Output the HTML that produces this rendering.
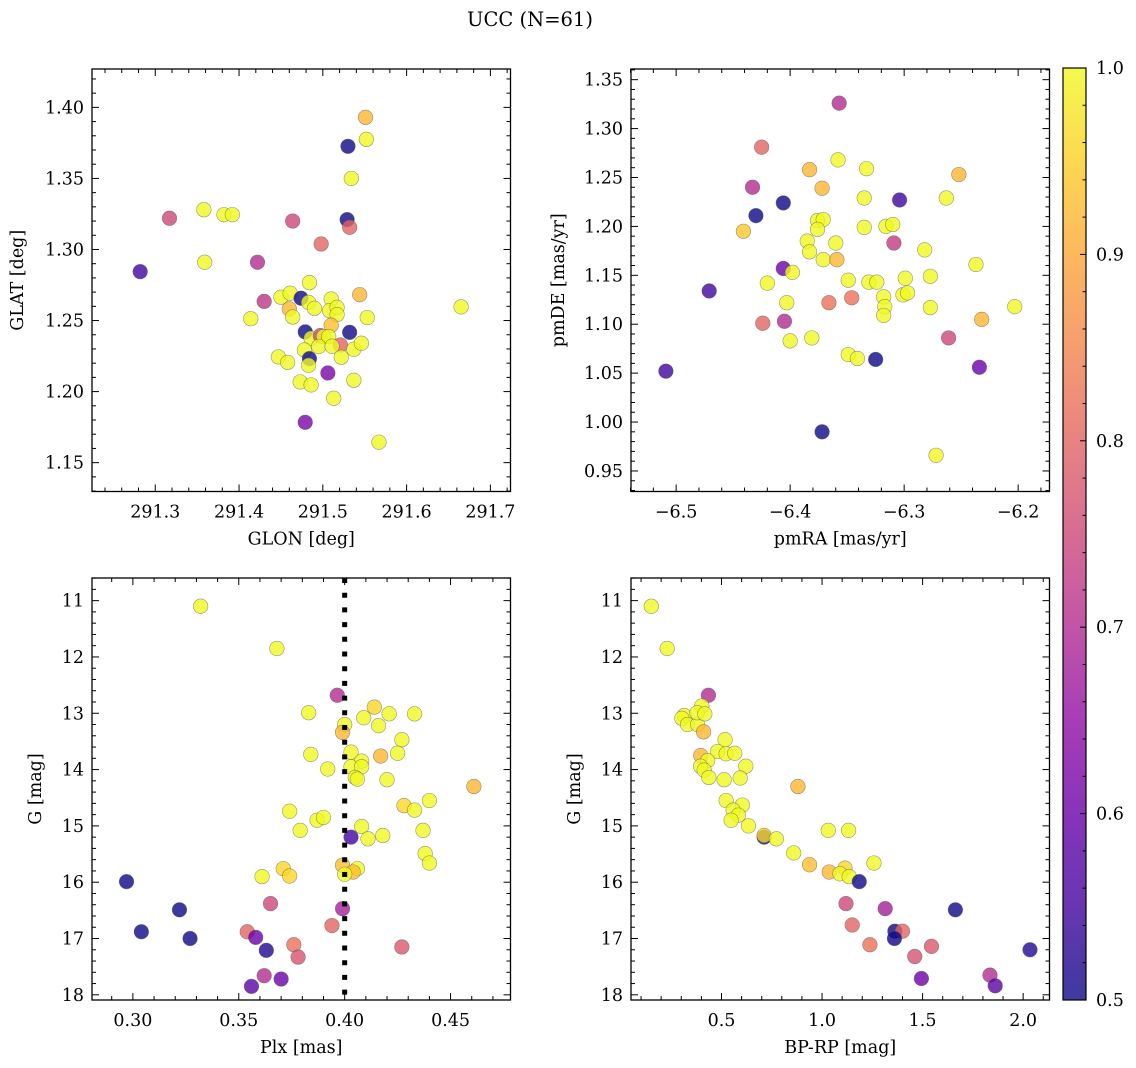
<!DOCTYPE html>
<html><head><meta charset="utf-8">
<style>
html,body{margin:0;padding:0;background:#fff;}
svg{display:block;font-family:"DejaVu Serif","Liberation Serif",serif;}
</style></head>
<body>
<svg id="fig" width="1136" height="1068" viewBox="0 0 1136 1068" xmlns="http://www.w3.org/2000/svg">
<rect width="1136" height="1068" fill="#fff"/>
<text x="530" y="26" font-size="19.5" text-anchor="middle">UCC (N=61)</text>
</svg>
<script>
// Panel 1: GLON vs GLAT
const p1x=[291.551,291.552,291.530,291.534,291.317,291.358,291.382,291.392,291.464,291.529,291.532,291.498,291.282,291.359,291.422,291.484,291.430,291.450,291.461,291.474,291.483,291.490,291.510,291.544,291.460,291.464,291.414,291.508,291.517,291.517,291.553,291.665,291.510,291.479,291.532,291.486,291.497,291.501,291.507,291.521,291.478,291.495,291.511,291.537,291.546,291.484,291.483,291.447,291.458,291.522,291.506,291.473,291.486,291.537,291.513,291.479,291.567];
const p1y=[1.393,1.3775,1.3726,1.350,1.322,1.328,1.3245,1.3245,1.320,1.321,1.3156,1.3039,1.2844,1.291,1.291,1.2767,1.2635,1.2664,1.2692,1.2657,1.2628,1.2586,1.2652,1.2682,1.2582,1.2525,1.2513,1.2570,1.2593,1.2542,1.2521,1.2596,1.2467,1.2420,1.2417,1.2375,1.2394,1.2387,1.2387,1.2328,1.2293,1.2317,1.2319,1.2298,1.2340,1.2232,1.2185,1.2244,1.2206,1.2242,1.2131,1.2068,1.2047,1.2080,1.1953,1.1784,1.1644];
const p1c=[0.92,1,0.5,1,0.75,1,1,1,0.75,0.5,0.8,0.8,0.55,1,0.7,1,0.72,1,1,0.5,1,1,1,0.92,0.92,1,1,1,1,1,1,1,0.93,0.5,0.5,1,0.75,1,1,0.8,1,1,1,1,1,0.5,1,1,1,1,0.62,1,1,1,1,0.62,1];
// Panel 2: pmRA vs pmDE
const p2x=[-6.357,-6.425,-6.358,-6.383,-6.333,-6.252,-6.433,-6.372,-6.406,-6.335,-6.304,-6.263,-6.430,-6.376,-6.371,-6.441,-6.376,-6.335,-6.316,-6.310,-6.309,-6.385,-6.360,-6.383,-6.371,-6.359,-6.282,-6.237,-6.406,-6.398,-6.420,-6.471,-6.349,-6.331,-6.324,-6.299,-6.277,-6.318,-6.301,-6.297,-6.403,-6.366,-6.346,-6.317,-6.277,-6.203,-6.318,-6.232,-6.424,-6.405,-6.261,-6.400,-6.381,-6.349,-6.341,-6.325,-6.234,-6.509,-6.372,-6.272];
const p2y=[1.326,1.281,1.268,1.258,1.259,1.253,1.240,1.239,1.224,1.229,1.227,1.229,1.211,1.206,1.207,1.195,1.197,1.199,1.200,1.202,1.183,1.185,1.183,1.174,1.166,1.166,1.176,1.161,1.157,1.153,1.142,1.134,1.145,1.143,1.143,1.147,1.149,1.128,1.130,1.132,1.122,1.122,1.127,1.118,1.117,1.118,1.109,1.105,1.101,1.103,1.086,1.083,1.086,1.069,1.065,1.064,1.056,1.052,0.990,0.966];
const p2c=[0.7,0.8,1,0.92,1,0.92,0.7,0.92,0.5,1,0.55,1,0.5,1,1,0.94,1,1,1,1,0.73,1,1,1,1,0.92,1,1,0.6,1,1,0.55,1,1,1,1,1,1,1,1,1,0.82,0.82,1,1,1,1,0.92,0.8,0.7,0.75,1,1,1,1,0.5,0.6,0.55,0.5,1];
// Panel 3: Plx vs G
const p3x=[0.332,0.368,0.3965,0.383,0.414,0.409,0.421,0.433,0.416,0.400,0.399,0.427,0.384,0.403,0.417,0.425,0.408,0.403,0.408,0.392,0.405,0.406,0.420,0.461,0.440,0.428,0.433,0.374,0.387,0.390,0.379,0.408,0.403,0.411,0.418,0.437,0.438,0.440,0.399,0.406,0.404,0.400,0.371,0.374,0.361,0.297,0.322,0.365,0.399,0.304,0.327,0.354,0.358,0.394,0.363,0.376,0.378,0.427,0.362,0.370,0.356];
const p3y=[11.10,11.85,12.68,12.99,12.89,13.08,13.01,13.01,13.22,13.20,13.34,13.47,13.73,13.69,13.76,13.71,13.85,13.95,13.95,13.99,14.14,14.17,14.18,14.30,14.55,14.64,14.72,14.74,14.90,14.85,15.08,15.01,15.20,15.23,15.17,15.08,15.49,15.66,15.70,15.76,15.82,15.86,15.76,15.89,15.90,15.99,16.49,16.38,16.47,16.88,17.00,16.88,16.98,16.77,17.21,17.11,17.33,17.15,17.66,17.72,17.85];
const p3c=[1,1,0.7,1,0.96,1,1,1,1,1,0.92,1,1,1,0.92,1,1,1,1,1,1,1,1,0.92,1,0.96,1,1,1,1,1,1,0.55,1,1,1,1,1,0.93,1,0.93,1,0.96,0.96,1,0.5,0.5,0.75,0.68,0.5,0.5,0.8,0.6,0.8,0.52,0.82,0.77,0.78,0.7,0.6,0.58];
// Panel 4: BP-RP vs G
const p4x=[0.151,0.230,0.435,0.402,0.315,0.303,0.331,0.381,0.378,0.417,0.411,0.518,0.397,0.480,0.523,0.566,0.431,0.396,0.414,0.621,0.437,0.513,0.593,0.880,0.523,0.604,0.558,0.584,0.548,0.634,0.712,0.712,0.773,1.031,1.132,0.859,0.938,1.258,1.036,1.114,1.089,1.135,1.185,1.119,1.314,1.663,1.150,1.362,1.400,1.360,1.238,1.544,1.461,2.034,1.494,1.835,1.861];
const p4y=[11.10,11.85,12.68,12.87,13.04,13.09,13.20,13.20,12.99,13.01,13.33,13.47,13.75,13.68,13.72,13.71,13.84,13.94,14.01,13.94,14.14,14.18,14.15,14.30,14.55,14.63,14.72,14.81,14.90,15.00,15.20,15.17,15.23,15.08,15.08,15.48,15.69,15.66,15.82,15.75,15.85,15.90,15.99,16.38,16.47,16.49,16.76,16.87,16.87,17.00,17.11,17.14,17.32,17.20,17.71,17.65,17.84];
const p4c=[1,1,0.7,1,1,1,1,1,1,1,0.92,1,0.92,1,1,1,1,1,1,1,1,1,1,0.92,1,1,1,1,1,1,0.5,0.96,1,1,1,1,0.93,1,0.92,0.96,1,1,0.5,0.75,0.68,0.5,0.8,0.5,0.8,0.5,0.82,0.78,0.77,0.52,0.6,0.7,0.58];
// tick labels
const p1xt=[291.3,291.4,291.5,291.6,291.7];
const p1yt=[1.15,1.20,1.25,1.30,1.35,1.40];
const p2xt=[-6.5,-6.4,-6.3,-6.2];
const p2yt=[0.95,1.00,1.05,1.10,1.15,1.20,1.25,1.30,1.35];
const p3xt=[0.30,0.35,0.40,0.45];
const gyt=[11,12,13,14,15,16,17,18];
const p4xt=[0.5,1.0,1.5,2.0];
const cbt=[0.5,0.6,0.7,0.8,0.9,1.0];
const plxLine=[0.40];

const NS="http://www.w3.org/2000/svg";
const svg=document.getElementById('fig');
function mk(tag,attrs,parent){const e=document.createElementNS(NS,tag);for(const k in attrs)e.setAttribute(k,attrs[k]);(parent||svg).appendChild(e);return e;}
const stops=[[13,8,135],[65,4,157],[106,0,168],[143,13,164],[177,42,144],[204,71,120],[225,100,98],[242,132,75],[252,166,54],[252,206,37],[240,249,33]];
function plasma(t){t=Math.max(0,Math.min(1,t));const f=t*10;const i=Math.min(9,Math.floor(f));const r=f-i;const a=stops[i],b=stops[i+1];return `rgb(${Math.round(a[0]+(b[0]-a[0])*r)},${Math.round(a[1]+(b[1]-a[1])*r)},${Math.round(a[2]+(b[2]-a[2])*r)})`;}
function pc(p){return plasma((p-0.5)/0.5);}
function fmt(v,d){const s=v.toFixed(d);return s.startsWith('-')?'\u2212'+s.slice(1):s;}
const TF=17.5;

function panel(o){
  const g=mk('g',{});
  
  
  const sx=v=>o.L+(v-o.x0)/(o.x1-o.x0)*(o.R-o.L);
  const sy=o.inv?(v=>o.T+(v-o.y0)/(o.y1-o.y0)*(o.B-o.T)):(v=>o.B-(v-o.y0)/(o.y1-o.y0)*(o.B-o.T));
  const tg=mk('g',{stroke:'#000','stroke-width':1},g);
  
  
  const xs=o.xt, ys=o.yt;
  const xstep=(xs[1]-xs[0])/o.xm, ystep=(ys[1]-ys[0])/o.ym;
  for(let k=-10;k<=(xs.length+10)*o.xm;k++){const v=xs[0]+k*xstep;const X=sx(v);if(X<o.L-0.5||X>o.R+0.5)continue;const len=(k%o.xm===0)?7:4;
    mk('line',{x1:X,x2:X,y1:o.B,y2:o.B-len},tg);mk('line',{x1:X,x2:X,y1:o.T,y2:o.T+len},tg);}
  for(let k=-10;k<=(ys.length+10)*o.ym;k++){const v=ys[0]+k*ystep;const Y=sy(v);if(Y<o.T-0.5||Y>o.B+0.5)continue;const len=(k%o.ym===0)?7:4;
    mk('line',{y1:Y,y2:Y,x1:o.L,x2:o.L+len},tg);mk('line',{y1:Y,y2:Y,x1:o.R,x2:o.R-len},tg);}
  xs.forEach(v=>{const t=mk('text',{x:sx(v),y:o.B+26,'font-size':TF,'text-anchor':'middle'},g);t.textContent=fmt(v,o.xd);
    });
  ys.forEach(v=>{const t=mk('text',{x:o.L-8,y:sy(v)+6,'font-size':TF,'text-anchor':'end'},g);t.textContent=fmt(v,o.yd);
    });
  const xl=mk('text',{x:(o.L+o.R)/2,y:o.B+53,'font-size':TF,'text-anchor':'middle'},g);xl.textContent=o.xlab;
  
  const yl=mk('text',{x:0,y:0,'font-size':TF,'text-anchor':'middle',transform:`translate(${o.ylx},${(o.T+o.B)/2}) rotate(-90)`},g);yl.textContent=o.ylab;
  
  const cid='clip'+o.name;const cp=mk('clipPath',{id:cid},g);mk('rect',{x:o.L,y:o.T,width:o.R-o.L,height:o.B-o.T},cp);
  const pg=mk('g',{'clip-path':`url(#${cid})`},g);
  
  o.px.forEach((v,i)=>{const c=mk('circle',{cx:sx(v),cy:sy(o.py[i]),r:7.3,fill:pc(o.pc[i]),'fill-opacity':0.8,stroke:'#555','stroke-opacity':0.6,'stroke-width':0.6},pg);
    });
  if(o.vline){o.vline.forEach(v=>{const l=mk('line',{x1:sx(v),x2:sx(v),y1:o.T,y2:o.B,stroke:'#000','stroke-width':5,'stroke-dasharray':'5,9.7'},pg);
    });}
  const fr=mk('rect',{x:o.L,y:o.T,width:o.R-o.L,height:o.B-o.T,fill:'none',stroke:'#000','stroke-width':1.3},g);
  
}
panel({name:'glon-glat-panel',L:92,R:510.5,T:69,B:491.5,x0:291.2245,x1:291.724,y0:1.1297,y1:1.427,xt:p1xt,yt:p1yt,xm:5,ym:5,xd:1,yd:2,px:p1x,py:p1y,pc:p1c,xlab:'GLON [deg]',ylab:'GLAT [deg]',ylx:23});
panel({name:'pm-panel',L:631,R:1049.5,T:69,B:491.5,x0:-6.5396,x1:-6.1725,y0:0.929,y1:1.3609,xt:p2xt,yt:p2yt,xm:5,ym:5,xd:1,yd:2,px:p2x,py:p2y,pc:p2c,xlab:'pmRA [mas/yr]',ylab:'pmDE [mas/yr]',ylx:564});
panel({name:'plx-g-panel',L:92,R:510.5,T:578,B:1000,inv:true,x0:0.2807,x1:0.4783,y0:10.598,y1:18.092,xt:p3xt,yt:gyt,xm:5,ym:5,xd:2,yd:0,px:p3x,py:p3y,pc:p3c,xlab:'Plx [mas]',ylab:'G [mag]',ylx:41,vline:plxLine});
panel({name:'cmd-panel',L:631,R:1049.5,T:578,B:1000,inv:true,x0:0.05,x1:2.131,y0:10.598,y1:18.092,xt:p4xt,yt:gyt,xm:5,ym:5,xd:1,yd:0,px:p4x,py:p4y,pc:p4c,xlab:'BP-RP [mag]',ylab:'G [mag]',ylx:580});

// colorbar
(function(){
  const L=1063,R=1086,T=68,B=1000;
  const g=mk('g',{});
  
  const defs=mk('defs',{},g);
  const lg=mk('linearGradient',{id:'cbgrad',x1:0,y1:1,x2:0,y2:0},defs);
  for(let i=0;i<=20;i++){mk('stop',{offset:i/20,'stop-color':plasma(i/20)},lg);}
  mk('rect',{x:L,y:T,width:R-L,height:B-T,fill:'url(#cbgrad)','fill-opacity':0.8},g);
  mk('rect',{x:L,y:T,width:R-L,height:B-T,fill:'none',stroke:'#000','stroke-width':1.2},g);
  const sy=v=>B-(v-0.5)/0.5*(B-T);
  for(let k=0;k<=25;k++){const v=0.5+k*0.02;const Y=sy(v);const len=(k%5===0)?6:3.5;mk('line',{x1:R,x2:R-len,y1:Y,y2:Y,stroke:'#000','stroke-width':1},g);}
  cbt.forEach(v=>{const t=mk('text',{x:R+10,y:sy(v)+6,'font-size':TF},g);t.textContent=v.toFixed(1);
    });
})();
</script>
</body></html>
